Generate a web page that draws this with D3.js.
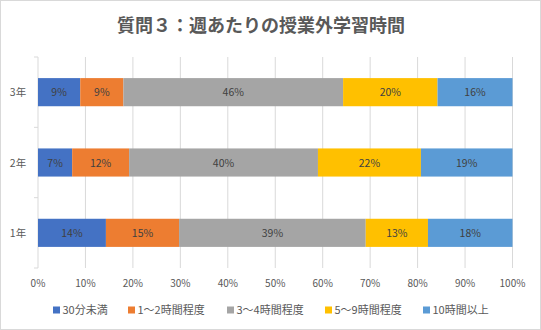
<!DOCTYPE html>
<html><head><meta charset="utf-8">
<script src="https://cdn.jsdelivr.net/npm/d3@7"></script>
<style>body{margin:0;background:#fff}svg{display:block}</style>
</head><body>
<script>
const categories = ["3年", "2年", "1年"];
const seriesNames = ["30分未満", "1～2時間程度", "3～4時間程度", "5～9時間程度", "10時間以上"];
const s30min = [8.9, 7.2, 14.3];
const s1to2 = [9.1, 12.0, 15.4];
const s3to4 = [46.3, 39.8, 39.3];
const s5to9 = [19.9, 21.7, 13.1];
const s10plus = [15.8, 19.3, 17.8];
const tickLabels = ["0%","10%","20%","30%","40%","50%","60%","70%","80%","90%","100%"];
const colors = ["#4472C4", "#ED7D31", "#A5A5A5", "#FFC000", "#5B9BD5"];

const series = [s30min, s1to2, s3to4, s5to9, s10plus];
const W = 541, H = 330;
const font = "'Noto Sans CJK JP', 'Noto Sans', sans-serif";
const svg = d3.select("body").append("svg").attr("width", W).attr("height", H);
svg.append("rect").attr("x",0.5).attr("y",0.5).attr("width",W-1).attr("height",H-1)
  .attr("fill","#fff").attr("stroke","#d9d9d9");

svg.append("text").attr("x", 261).attr("y", 32).attr("text-anchor","middle")
  .attr("font-family", font).attr("font-weight","bold").attr("font-size", 18)
  .attr("fill","#595959").text("質問３：週あたりの授業外学習時間");

const x = d3.scaleLinear().domain([0, 1]).range([38, 512.5]);
const y = d3.scaleBand().domain(categories).range([57, 268]).paddingInner(0.6).paddingOuter(0.3);
const yb = d3.scaleBand().domain(categories).range([57, 268]);

// gridlines
const g = svg.append("g");
g.selectAll("line.grid").data(d3.range(0, 11)).enter().append("line")
  .attr("x1", d => x(d/10)).attr("x2", d => x(d/10))
  .attr("y1", 57).attr("y2", 268).attr("stroke", "#d9d9d9").attr("stroke-width", 1);

// y-axis ticks
const yTicks = [57, ...categories.map(c => yb(c) + yb.bandwidth())];
g.selectAll("line.yt").data(yTicks).enter().append("line")
  .attr("x1", 34).attr("x2", 38).attr("y1", d => d).attr("y2", d => d)
  .attr("stroke", "#d9d9d9");

// stacked bars
const data = categories.map((c, i) => {
  const o = {cat: c};
  seriesNames.forEach((s, j) => o[s] = series[j][i]);
  return o;
});
const stack = d3.stack().keys(seriesNames).offset(d3.stackOffsetExpand);
const layers = stack(data);
layers.forEach((layer, j) => {
  const lg = svg.append("g");
  lg.selectAll("rect").data(layer).enter().append("rect")
    .attr("x", d => x(d[0])).attr("width", d => x(d[1]) - x(d[0]))
    .attr("y", d => y(d.data.cat)).attr("height", y.bandwidth())
    .attr("fill", colors[j]);
  lg.selectAll("text").data(layer).enter().append("text")
    .attr("x", d => (x(d[0]) + x(d[1])) / 2)
    .attr("y", d => y(d.data.cat) + y.bandwidth()/2 + 4)
    .attr("text-anchor","middle").attr("font-family", font).attr("font-size", 10.5)
    .attr("fill","#404040").text(d => Math.round(d.data[seriesNames[j]]) + "%");
});

// category labels
svg.selectAll("text.cat").data(categories).enter().append("text")
  .attr("x", 18).attr("y", d => yb(d) + yb.bandwidth()/2 + 4)
  .attr("text-anchor","middle").attr("font-family", font).attr("font-size", 10.5)
  .attr("fill","#595959").text(d => d);

// x tick labels
svg.selectAll("text.xt").data(tickLabels).enter().append("text")
  .attr("x", (d, i) => x(i/10)).attr("y", 287)
  .attr("text-anchor","middle").attr("font-family", font).attr("font-size", 10)
  .attr("fill","#595959").text(d => d);

// legend
const legendX = [53, 128, 227, 325, 423];
const lgd = svg.selectAll("g.leg").data(seriesNames).enter().append("g")
  .attr("transform", (d, i) => `translate(${legendX[i]},310)`);
lgd.append("rect").attr("x", 0).attr("y", -3.5).attr("width", 7).attr("height", 7)
  .attr("fill", (d, i) => colors[i]);
lgd.append("text").attr("x", 9.5).attr("y", 4).attr("font-family", font).attr("font-size", 11)
  .attr("fill","#595959").text(d => d);
</script>
</body></html>
